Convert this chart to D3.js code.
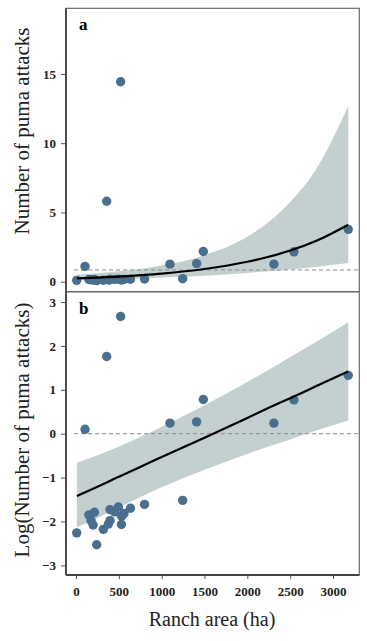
<!DOCTYPE html>
<html>
<head>
<meta charset="utf-8">
<script src="https://cdn.jsdelivr.net/npm/d3@7"></script>
<style>
  body { margin: 0; background: #fff; }
  svg { display: block; }
  .tick text { font-family: "Liberation Serif", "DejaVu Serif", serif; font-weight: bold; font-size: 13px; fill: #222; }
  .tick line { stroke: #555; }
</style>
</head>
<body>
<div id="chart"></div>
<script>
//################## Data ##################

// ranch area (ha) of every ranch
var ranchArea   = [8, 241, 150, 215, 175, 200, 319, 377, 397, 397, 494, 450, 533, 530, 560, 635, 800, 1245,
                   105, 358, 521, 1097, 1408, 1486, 2310, 2544, 3178];
// panel a : number of puma attacks
var pumaAttacks = [0.10, 0.08, 0.16, 0.17, 0.14, 0.12, 0.11, 0.13, 0.14, 0.18, 0.19, 0.17, 0.15, 0.13, 0.16, 0.18, 0.20, 0.22,
                   1.11, 5.81, 14.44, 1.27, 1.31, 2.18, 1.27, 2.16, 3.78];
// panel b : log(number of puma attacks)
var logAttacks  = [-2.26, -2.53, -1.85, -1.79, -1.98, -2.08, -2.18, -2.06, -1.98, -1.73, -1.67, -1.78, -1.88, -2.07, -1.82, -1.70, -1.61, -1.52,
                   0.10, 1.76, 2.67, 0.24, 0.27, 0.78, 0.24, 0.77, 1.33];

// fitted model and confidence band
var fitArea  = [10, 250, 500, 768, 1000, 1500, 2000, 2250, 2500, 2800, 3178];
var fitA     = [0.24, 0.30, 0.37, 0.48, 0.59, 0.92, 1.44, 1.80, 2.25, 2.94, 4.12];
var bandLowA = [0.12, 0.15, 0.19, 0.24, 0.30, 0.44, 0.63, 0.75, 0.88, 1.07, 1.35];
var bandHiA  = [0.52, 0.61, 0.75, 0.94, 1.17, 1.92, 3.25, 4.31, 5.75, 8.08, 12.68];
var fitB     = [-1.42, -1.21, -0.98, -0.74, -0.53, -0.09, 0.36, 0.59, 0.81, 1.08, 1.42];
var bandLowB = [-2.13, -1.92, -1.68, -1.43, -1.22, -0.82, -0.46, -0.29, -0.13, 0.07, 0.30];
var bandHiB  = [-0.66, -0.49, -0.29, -0.06, 0.16, 0.65, 1.18, 1.46, 1.75, 2.09, 2.54];

// reference (dashed) lines
var refLineA = 0.85;
var refLineB = 0;

// tick labels
var xTicks  = [0, 500, 1000, 1500, 2000, 2500, 3000];
var yTicksA = [0, 5, 10, 15];
var yTicksB = [-3, -2, -1, 0, 1, 2, 3];

//################## Drawing ##################

var width = 367;
var height = 641;
var left = 66, right = 359.3;
var pointColor = "#4a6f8e";
var bandColor = "#c3d0cf";
var serif = "'Liberation Serif', 'DejaVu Serif', serif";

var svg = d3.select("#chart").append("svg")
  .attr("width", width)
  .attr("height", height);

var xscale = d3.scaleLinear().domain([-117, 3307]).range([left, right]);

// panel objects
var panelA = {
  top: 8.3, bottom: 291.7, label: "a",
  yscale: d3.scaleLinear().domain([-0.72, 19.74]).range([291.7, 8.3]),
  y: pumaAttacks, fit: fitA, lo: bandLowA, hi: bandHiA, ref: refLineA, ticks: yTicksA,
  title: "Number of puma attacks", titleY: 131
};
var panelB = {
  top: 291.7, bottom: 575, label: "b",
  yscale: d3.scaleLinear().domain([-3.22, 3.236]).range([575, 291.7]),
  y: logAttacks, fit: fitB, lo: bandLowB, hi: bandHiB, ref: refLineB, ticks: yTicksB,
  title: "Log(Number of puma attacks)", titleY: 430
};

function drawPanel(p) {
  var g = svg.append("g");
  var yscale = p.yscale;

  // confidence band
  var area = d3.area()
    .x(function(d, i) { return xscale(fitArea[i]); })
    .y0(function(d, i) { return yscale(p.lo[i]); })
    .y1(function(d, i) { return yscale(p.hi[i]); })
    .curve(d3.curveMonotoneX);
  g.append("path")
    .datum(fitArea)
    .attr("d", area)
    .attr("fill", bandColor);

  // dashed reference line
  g.append("line")
    .attr("x1", left + 8).attr("x2", right - 1)
    .attr("y1", yscale(p.ref)).attr("y2", yscale(p.ref))
    .attr("stroke", "#8c8c8c")
    .attr("stroke-width", 1)
    .attr("stroke-dasharray", "4,3");

  // points
  g.selectAll("circle")
    .data(ranchArea)
    .enter().append("circle")
      .attr("cx", function(d) { return xscale(d); })
      .attr("cy", function(d, i) { return yscale(p.y[i]); })
      .attr("r", 4.7)
      .attr("fill", pointColor);

  // fitted line
  var line = d3.line()
    .x(function(d, i) { return xscale(fitArea[i]); })
    .y(function(d, i) { return yscale(p.fit[i]); })
    .curve(d3.curveMonotoneX);
  g.append("path")
    .datum(fitArea)
    .attr("d", line)
    .attr("fill", "none")
    .attr("stroke", "#000")
    .attr("stroke-width", 2.2);

  // frame
  g.append("rect")
    .attr("x", left).attr("y", p.top)
    .attr("width", right - left).attr("height", p.bottom - p.top)
    .attr("fill", "none")
    .attr("stroke", "#6a6a6a")
    .attr("stroke-width", 1.2);

  // y axis
  var yaxis = d3.axisLeft(yscale).tickValues(p.ticks).tickFormat(d3.format("d")).tickSize(5).tickPadding(5);
  g.append("g")
    .attr("class", "yaxis")
    .attr("transform", "translate(" + left + ",0)")
    .call(yaxis)
    .call(function(s) { s.select(".domain").remove(); });

  // left axis line (darker)
  g.append("line")
    .attr("x1", left).attr("x2", left)
    .attr("y1", p.top).attr("y2", p.bottom)
    .attr("stroke", "#444")
    .attr("stroke-width", 1.8);

  // panel letter
  g.append("text")
    .attr("x", 79).attr("y", p.top + 22)
    .attr("font-family", serif)
    .attr("font-weight", "bold")
    .attr("font-size", 17)
    .text(p.label);

  // y title
  g.append("text")
    .attr("transform", "translate(29," + p.titleY + ") rotate(-90)")
    .attr("text-anchor", "middle")
    .attr("font-family", serif)
    .attr("font-size", 21)
    .attr("fill", "#222")
    .text(p.title);
}

drawPanel(panelA);
drawPanel(panelB);

// x axis under panel b
var xaxis = d3.axisBottom(xscale).tickValues(xTicks).tickFormat(d3.format("d")).tickSize(4).tickPadding(8);
svg.append("g")
  .attr("class", "xaxis")
  .attr("transform", "translate(0," + panelB.bottom + ")")
  .call(xaxis)
  .call(function(s) { s.select(".domain").remove(); });

svg.append("line")
  .attr("x1", left).attr("x2", right)
  .attr("y1", panelB.bottom).attr("y2", panelB.bottom)
  .attr("stroke", "#444")
  .attr("stroke-width", 1.8);

svg.append("text")
  .attr("x", 212).attr("y", 626)
  .attr("text-anchor", "middle")
  .attr("font-family", serif)
  .attr("font-size", 20)
  .attr("fill", "#222")
  .text("Ranch area (ha)");
</script>
</body>
</html>
